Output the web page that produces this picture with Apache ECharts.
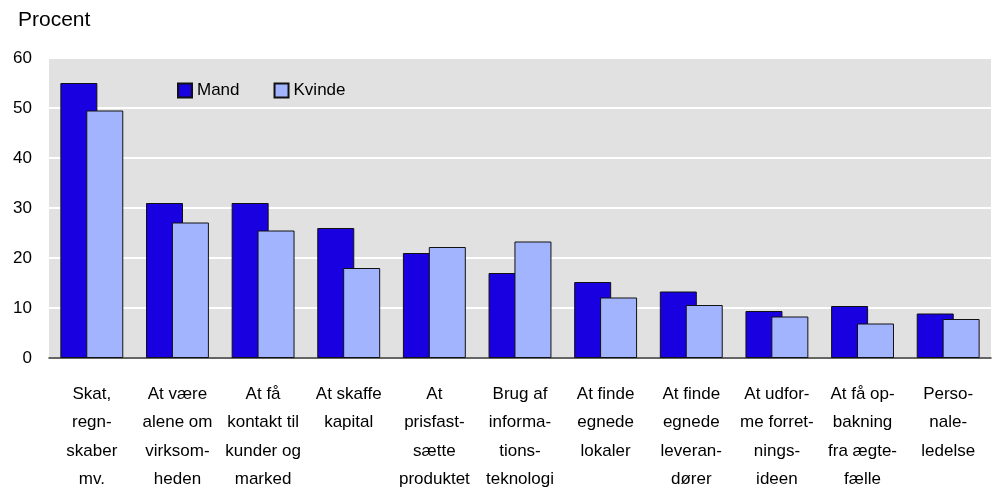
<!DOCTYPE html>
<html>
<head>
<meta charset="utf-8">
<script src="https://cdn.jsdelivr.net/npm/echarts@6/dist/echarts.min.js"></script>
<style>
html,body{margin:0;padding:0;background:#fff;}
#c{width:997px;height:490px;}
</style>
</head>
<body>
<div id="c"></div>
<script>
const categories = [
  "Skat,\nregn-\nskaber\nmv.",
  "At være\nalene om\nvirksom-\nheden",
  "At få\nkontakt til\nkunder og\nmarked",
  "At skaffe\nkapital",
  "At\nprisfast-\nsætte\nproduktet",
  "Brug af\ninforma-\ntions-\nteknologi",
  "At finde\negnede\nlokaler",
  "At finde\negnede\nleveran-\ndører",
  "At udfor-\nme forret-\nnings-\nideen",
  "At få op-\nbakning\nfra ægte-\nfælle",
  "Perso-\nnale-\nledelse"
];
const seriesNames = ["Mand", "Kvinde"];
const mand = [55, 31, 31, 26, 21, 17, 15.2, 13.3, 9.4, 10.4, 8.9];
const kvinde = [49.5, 27.1, 25.5, 18, 22.2, 23.3, 12.1, 10.6, 8.3, 6.9, 7.8];
const yTicks = [0, 10, 20, 30, 40, 50, 60];

const FONT = "'Liberation Sans Narrow', 'Arial Narrow', 'Liberation Sans', Arial, sans-serif";
const chart = echarts.init(document.getElementById('c'), null, {renderer: 'canvas'});
chart.setOption({
  animation: false,
  backgroundColor: '#ffffff',
  textStyle: {fontFamily: FONT, color: '#000'},
  title: {
    text: 'Procent', left: 13, top: 5,
    textStyle: {fontFamily: FONT, fontSize: 21, fontWeight: 'normal', color: '#000'}
  },
  legend: {
    data: seriesNames, left: 172, top: 77,
    itemWidth: 14, itemHeight: 14, itemGap: 34,
    textStyle: {fontFamily: FONT, fontSize: 17, color: '#000'},
    icon: 'rect'
  },
  grid: {
    left: 49, right: 6, top: 58, bottom: 132,
    outerBoundsMode: 'none', containLabel: false,
    show: true, backgroundColor: '#e1e1e1', borderWidth: 0
  },
  xAxis: {
    type: 'category', data: categories,
    axisLine: {show: true, lineStyle: {color: '#333', width: 1.5}},
    axisTick: {show: false},
    axisLabel: {
      interval: 0, margin: 22, fontFamily: FONT, fontSize: 17, lineHeight: 28.5,
      color: '#000', align: 'center'
    }
  },
  yAxis: {
    type: 'value', min: yTicks[0], max: yTicks[yTicks.length - 1], interval: 10,
    axisLine: {show: false}, axisTick: {show: false},
    axisLabel: {margin: 17, fontFamily: FONT, fontSize: 17, color: '#000'},
    splitLine: {show: true, lineStyle: {color: '#ffffff', width: 2}}
  },
  series: [
    {
      name: seriesNames[0], type: 'bar', data: mand, barWidth: 37, barGap: '-30%',
      itemStyle: {color: '#1800e0', borderColor: '#111', borderWidth: 1}
    },
    {
      name: seriesNames[1], type: 'bar', data: kvinde, barWidth: 37,
      itemStyle: {color: '#a3b4ff', borderColor: '#111', borderWidth: 1}
    }
  ]
});
</script>
</body>
</html>
